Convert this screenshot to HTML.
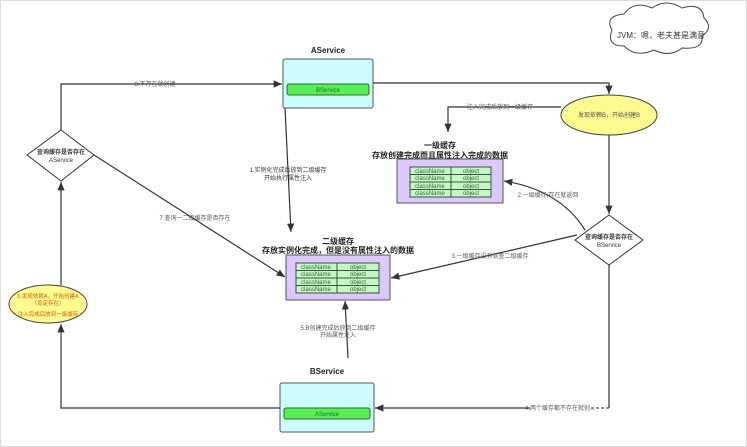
<!DOCTYPE html>
<html><head><meta charset="utf-8"><style>
html,body{margin:0;padding:0;background:#fff;}
svg{display:block;font-family:"Liberation Sans","Noto Sans CJK SC",sans-serif;}
.l{fill:none;stroke:#333;stroke-width:1.2;}
.t{font-size:6px;fill:#555;}
.b{font-size:8px;font-weight:bold;fill:#222;}
.c{font-size:6px;fill:#2a6a2a;}
</style></head><body>
<svg width="747" height="447" viewBox="0 0 747 447">
<defs><marker id="a" markerWidth="8" markerHeight="8" refX="7" refY="4" orient="auto"><path d="M0,1 L7,4 L0,7 z" fill="#333"/></marker></defs>
<rect x="0.5" y="0.5" width="746" height="446" fill="none" stroke="#ddd"/>
<!-- cloud -->
<path d="M612,30 q-8,-14 12,-16 q10,-14 28,-6 q14,-10 30,0 q20,-6 22,10 q10,10 -2,18 q2,14 -20,12 q-12,10 -28,2 q-18,8 -30,-4 q-18,0 -12,-16z" fill="#fff" stroke="#444"/>
<text x="661" y="38" font-size="8" text-anchor="middle" fill="#333">JVM：嗯，老夫甚是满意</text>
<!-- AService -->
<text x="328" y="53" class="b" text-anchor="middle" font-size="9">AService</text>
<rect x="283" y="59" width="90" height="49" rx="2" fill="#ccfcfc" stroke="#555"/>
<rect x="287" y="84" width="82" height="11" rx="2" fill="#55ee55" stroke="#336633"/>
<text x="328" y="92" class="c" text-anchor="middle">BService</text>
<!-- BService -->
<text x="327" y="374" class="b" text-anchor="middle" font-size="9">BService</text>
<rect x="280" y="383" width="94" height="49" rx="2" fill="#ccfcfc" stroke="#555"/>
<rect x="284" y="408" width="86" height="11" rx="2" fill="#55ee55" stroke="#336633"/>
<text x="327" y="416" class="c" text-anchor="middle">AService</text>
<!-- cache 1 -->
<text x="440" y="148" class="b" text-anchor="middle">一级缓存</text>
<text x="440" y="158" class="b" text-anchor="middle">存放创建完成而且属性注入完成的数据</text>
<rect x="397" y="159" width="106" height="44" fill="#dcc8fa" stroke="#555"/>
<g stroke="#335533" fill="#c8f5c8">
<rect x="410" y="167" width="41" height="7.5"/><rect x="451" y="167" width="40" height="7.5"/>
<rect x="410" y="174.5" width="41" height="7.5"/><rect x="451" y="174.5" width="40" height="7.5"/>
<rect x="410" y="182" width="41" height="7.5"/><rect x="451" y="182" width="40" height="7.5"/>
<rect x="410" y="189.5" width="41" height="7.5"/><rect x="451" y="189.5" width="40" height="7.5"/>
</g>
<g class="c" text-anchor="middle"><text x="430" y="173">className</text><text x="471" y="173">object</text><text x="430" y="180">className</text><text x="471" y="180">object</text><text x="430" y="188">className</text><text x="471" y="188">object</text><text x="430" y="195">className</text><text x="471" y="195">object</text></g>
<!-- cache 2 -->
<text x="338" y="244" class="b" text-anchor="middle">二级缓存</text>
<text x="338" y="253" class="b" text-anchor="middle">存放实例化完成，但是没有属性注入的数据</text>
<rect x="286" y="255" width="104" height="45" fill="#dcc8fa" stroke="#555"/>
<g stroke="#335533" fill="#c8f5c8">
<rect x="296" y="263" width="41" height="7.5"/><rect x="337" y="263" width="42" height="7.5"/>
<rect x="296" y="270.5" width="41" height="7.5"/><rect x="337" y="270.5" width="42" height="7.5"/>
<rect x="296" y="278" width="41" height="7.5"/><rect x="337" y="278" width="42" height="7.5"/>
<rect x="296" y="285.5" width="41" height="7.5"/><rect x="337" y="285.5" width="42" height="7.5"/>
</g>
<g class="c" text-anchor="middle"><text x="316" y="269">className</text><text x="358" y="269">object</text><text x="316" y="276">className</text><text x="358" y="276">object</text><text x="316" y="284">className</text><text x="358" y="284">object</text><text x="316" y="291">className</text><text x="358" y="291">object</text></g>
<!-- ellipses & diamonds -->
<ellipse cx="609" cy="115" rx="48" ry="20" fill="#fbfb90" stroke="#444"/>
<text x="609" y="117" class="t" text-anchor="middle" fill="#444">发现依赖B，开始创建B</text>
<polygon points="609,215 643,240 609,265 575,240" fill="#fff" stroke="#333"/>
<text x="609" y="239" font-size="6" font-weight="bold" text-anchor="middle" fill="#333">查询缓存是否存在</text>
<text x="609" y="247" font-size="6" text-anchor="middle" fill="#333">BService</text>
<polygon points="61,130 94,155 61,181 27,155" fill="#fff" stroke="#333"/>
<text x="61" y="154" font-size="6" font-weight="bold" text-anchor="middle" fill="#333">查询缓存是否存在</text>
<text x="61" y="162" font-size="6" text-anchor="middle" fill="#333">AService</text>
<ellipse cx="48" cy="304" rx="39" ry="19" fill="#fbfb90" stroke="#444"/>
<g font-size="5.5" fill="#e05a00" text-anchor="middle"><text x="48" y="298">6.发现依赖A，开始创建A</text><text x="48" y="305">（肯定存在）</text><text x="48" y="316">注入完成后放到一级缓存</text></g>
<!-- connectors -->
<polyline class="l" points="61,130 61,84 282,84" marker-end="url(#a)"/>
<text x="155" y="86" class="t" text-anchor="middle">8.不存在就创建</text>
<polyline class="l" points="373,83 609,83 609,94" marker-end="url(#a)"/>
<polyline class="l" points="561,107 448,107 448,132" marker-end="url(#a)"/>
<text x="500" y="109" class="t" text-anchor="middle">注入完成后放到一级缓存</text>
<line class="l" x1="609" y1="135" x2="609" y2="214" marker-end="url(#a)"/>
<path class="l" d="M585,230 Q560,190 504,181" marker-end="url(#a)"/>
<text x="548" y="197" class="t" text-anchor="middle">2.一级缓存,存在就返回</text>
<line class="l" x1="577" y1="235" x2="391" y2="278" marker-end="url(#a)"/>
<text x="490" y="258" class="t" text-anchor="middle">3.一级缓存没有就查二级缓存</text>
<line class="l" x1="285" y1="108" x2="291" y2="232" marker-end="url(#a)"/>
<text x="288" y="172" font-size="6" fill="#333" text-anchor="middle">1.实例化完成后放到二级缓存</text>
<text x="288" y="180" font-size="6" fill="#333" text-anchor="middle">开始执行属性注入</text>
<line class="l" x1="94" y1="155" x2="285" y2="277" marker-end="url(#a)"/>
<text x="195" y="220" class="t" text-anchor="middle">7.查询一二级缓存是否存在</text>
<line class="l" x1="609" y1="265" x2="609" y2="408"/>
<line x1="609" y1="408" x2="590" y2="408" stroke="#333" stroke-dasharray="3,2"/>
<line class="l" x1="530" y1="408" x2="375" y2="408" marker-end="url(#a)"/>
<text x="560" y="410" class="t" text-anchor="middle">4.两个缓存都不存在就创...</text>
<line class="l" x1="348" y1="358" x2="345" y2="301" marker-end="url(#a)"/>
<text x="338" y="330" class="t" text-anchor="middle">5.B创建完成后放到二级缓存</text>
<text x="338" y="337" class="t" text-anchor="middle">开始属性注入</text>
<polyline class="l" points="280,408 61,408 61,324" marker-end="url(#a)"/>
<line class="l" x1="61" y1="285" x2="61" y2="182" marker-end="url(#a)"/>
</svg>
</body></html>
